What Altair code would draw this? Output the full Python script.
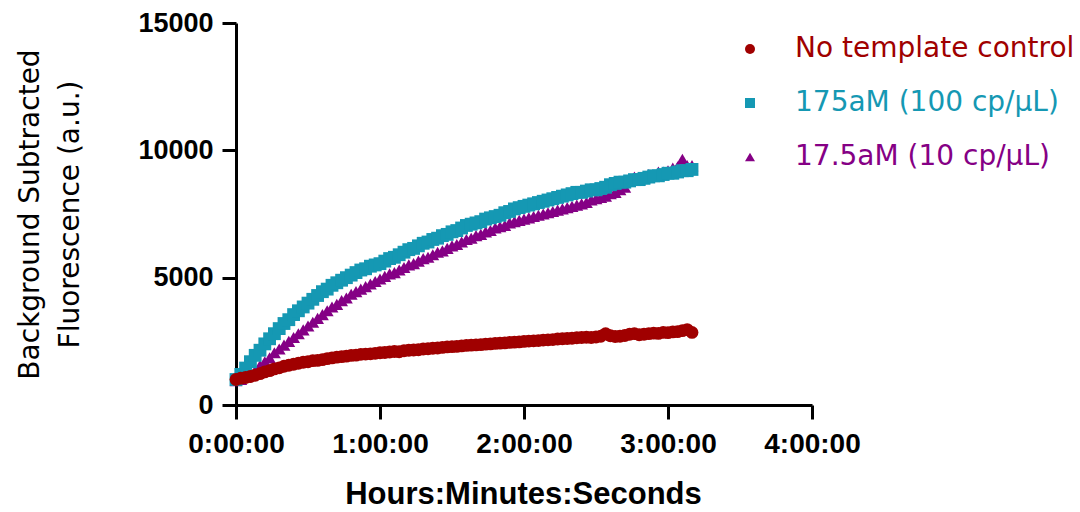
import altair as alt
import pandas as pd

# ---- data (time in minutes, fluorescence a.u.) ----
minutes = list(range(0, 192, 2))

ntc = [1000, 1050, 1080, 1120, 1170, 1230, 1300, 1350, 1420, 1460,
       1520, 1560, 1600, 1640, 1680, 1700, 1740, 1750, 1780, 1820,
       1850, 1880, 1900, 1920, 1950, 1960, 1990, 2000, 2010, 2030,
       2050, 2060, 2080, 2100, 2090, 2130, 2150, 2160, 2170, 2200,
       2210, 2230, 2240, 2260, 2280, 2290, 2300, 2320, 2340, 2350,
       2360, 2370, 2390, 2400, 2420, 2430, 2440, 2460, 2470, 2480,
       2500, 2510, 2520, 2530, 2550, 2560, 2570, 2590, 2600, 2610,
       2620, 2640, 2650, 2660, 2650, 2670, 2700, 2800, 2720, 2690,
       2700, 2730, 2780, 2800, 2760, 2780, 2800, 2820, 2810, 2850,
       2840, 2870, 2880, 2920, 2960, 2850]

c175 = [1000, 1200, 1450, 1700, 1950, 2150, 2400, 2600, 2800, 3000,
        3200, 3350, 3550, 3700, 3850, 4000, 4150, 4300, 4450, 4550,
        4700, 4800, 4900, 5000, 5100, 5200, 5300, 5350, 5450, 5500,
        5550, 5650, 5750, 5800, 5900, 6000, 6100, 6150, 6250, 6350,
        6400, 6500, 6550, 6650, 6700, 6800, 6850, 6950, 7050, 7100,
        7150, 7200, 7300, 7350, 7400, 7450, 7550, 7600, 7700, 7750,
        7800, 7850, 7900, 7950, 8000, 8050, 8100, 8150, 8200, 8250,
        8300, 8350, 8350, 8400, 8450, 8450, 8500, 8550, 8650, 8700,
        8750, 8750, 8800, 8850, 8850, 8900, 8950, 9000, 9000, 9050,
        9100, 9100, 9150, 9200, 9200, 9250]

c17 = [950, 1000, 1100, 1200, 1350, 1550, 1700, 1850, 2050, 2200,
       2350, 2500, 2650, 2800, 2950, 3100, 3250, 3400, 3550, 3700,
       3850, 3950, 4100, 4200, 4350, 4450, 4550, 4650, 4750, 4850,
       4950, 5050, 5150, 5200, 5300, 5400, 5500, 5550, 5650, 5750,
       5800, 5900, 6000, 6050, 6150, 6250, 6300, 6400, 6500, 6550,
       6650, 6700, 6800, 6850, 6950, 7000, 7050, 7150, 7200, 7250,
       7300, 7350, 7400, 7450, 7500, 7550, 7600, 7650, 7700, 7750,
       7800, 7850, 7900, 7950, 8050, 8100, 8150, 8200, 8300, 8350,
       8450, 8550, 8800, 8950, 8850, 8900, 9050, 9000, 9150, 9150,
       9200, 9300, 9350, 9650, 9400, 9400]

names = ["No template control", "175aM (100 cp/\u03bcL)", "17.5aM (10 cp/\u03bcL)"]
colors = ["#A00000", "#1598B3", "#850085"]
shapes = ["circle", "square", "triangle-up"]
x_ticks = [0, 60, 120, 180, 240]
y_ticks = [0, 5000, 10000, 15000]

# drawing order: purple, cyan, red on top
rows = []
for name, vals in [(names[2], c17), (names[1], c175), (names[0], ntc)]:
    for m, v in zip(minutes, vals):
        rows.append({"minutes": m, "value": v, "series": name})
df = pd.DataFrame(rows)

label_color = (f"datum.label == '{names[0]}' ? '{colors[0]}' : "
               f"datum.label == '{names[1]}' ? '{colors[1]}' : '{colors[2]}'")

legend = alt.Legend(
    title=None, orient="none", legendX=500, legendY=12, padding=0,
    labelFont="DejaVu Sans", labelFontSize=28, labelColor=alt.ExprRef(expr=label_color),
    labelOffset=31, rowPadding=26, symbolSize=100, symbolStrokeWidth=0,
    labelLimit=400,
)

chart = alt.Chart(df).mark_point(filled=True, opacity=1, size=165, strokeWidth=0).encode(
    x=alt.X("minutes:Q",
            scale=alt.Scale(domain=[0, 240], nice=False, zero=True),
            axis=alt.Axis(values=x_ticks, labelExpr="(datum.value/60) + ':00:00'",
                          title="Hours:Minutes:Seconds", grid=False, labelFlush=False,
                          labelOverlap=False,
                          labelFont="Liberation Sans Narrow, Liberation Sans", labelFontWeight="bold",
                          labelFontSize=28, labelPadding=11, labelColor="black",
                          titleFont="Liberation Sans", titleFontWeight="bold", titleFontSize=31,
                          titleColor="black", titleBaseline="alphabetic", titleX=287, titleY=98,
                          domainColor="black", domainWidth=3, tickColor="black",
                          tickWidth=3, tickSize=14)),
    y=alt.Y("value:Q",
            scale=alt.Scale(domain=[0, 15000], nice=False),
            axis=alt.Axis(values=y_ticks, format="d",
                          title=["Background Subtracted", "Fluorescence (a.u.)"], grid=False,
                          labelFont="Liberation Sans", labelFontWeight="bold", labelFontSize=27,
                          labelPadding=9, labelColor="black",
                          titleFont="DejaVu Sans", titleFontWeight="normal", titleFontSize=28,
                          titleColor="black", titleLineHeight=40, titleX=-192, titleY=191,
                          domainColor="black", domainWidth=3, tickColor="black",
                          tickWidth=3, tickSize=14)),
    color=alt.Color("series:N", scale=alt.Scale(domain=names, range=colors), legend=legend),
    shape=alt.Shape("series:N", scale=alt.Scale(domain=names, range=shapes), legend=legend),
).properties(
    width=576, height=382,
    autosize=alt.AutoSizeParams(type="none"),
    padding={"left": 236, "top": 23, "right": 268, "bottom": 107},
).configure(background="white", view=alt.ViewConfig(stroke=None))

chart.save("out.html", embed_options={"renderer": "svg", "actions": False})
